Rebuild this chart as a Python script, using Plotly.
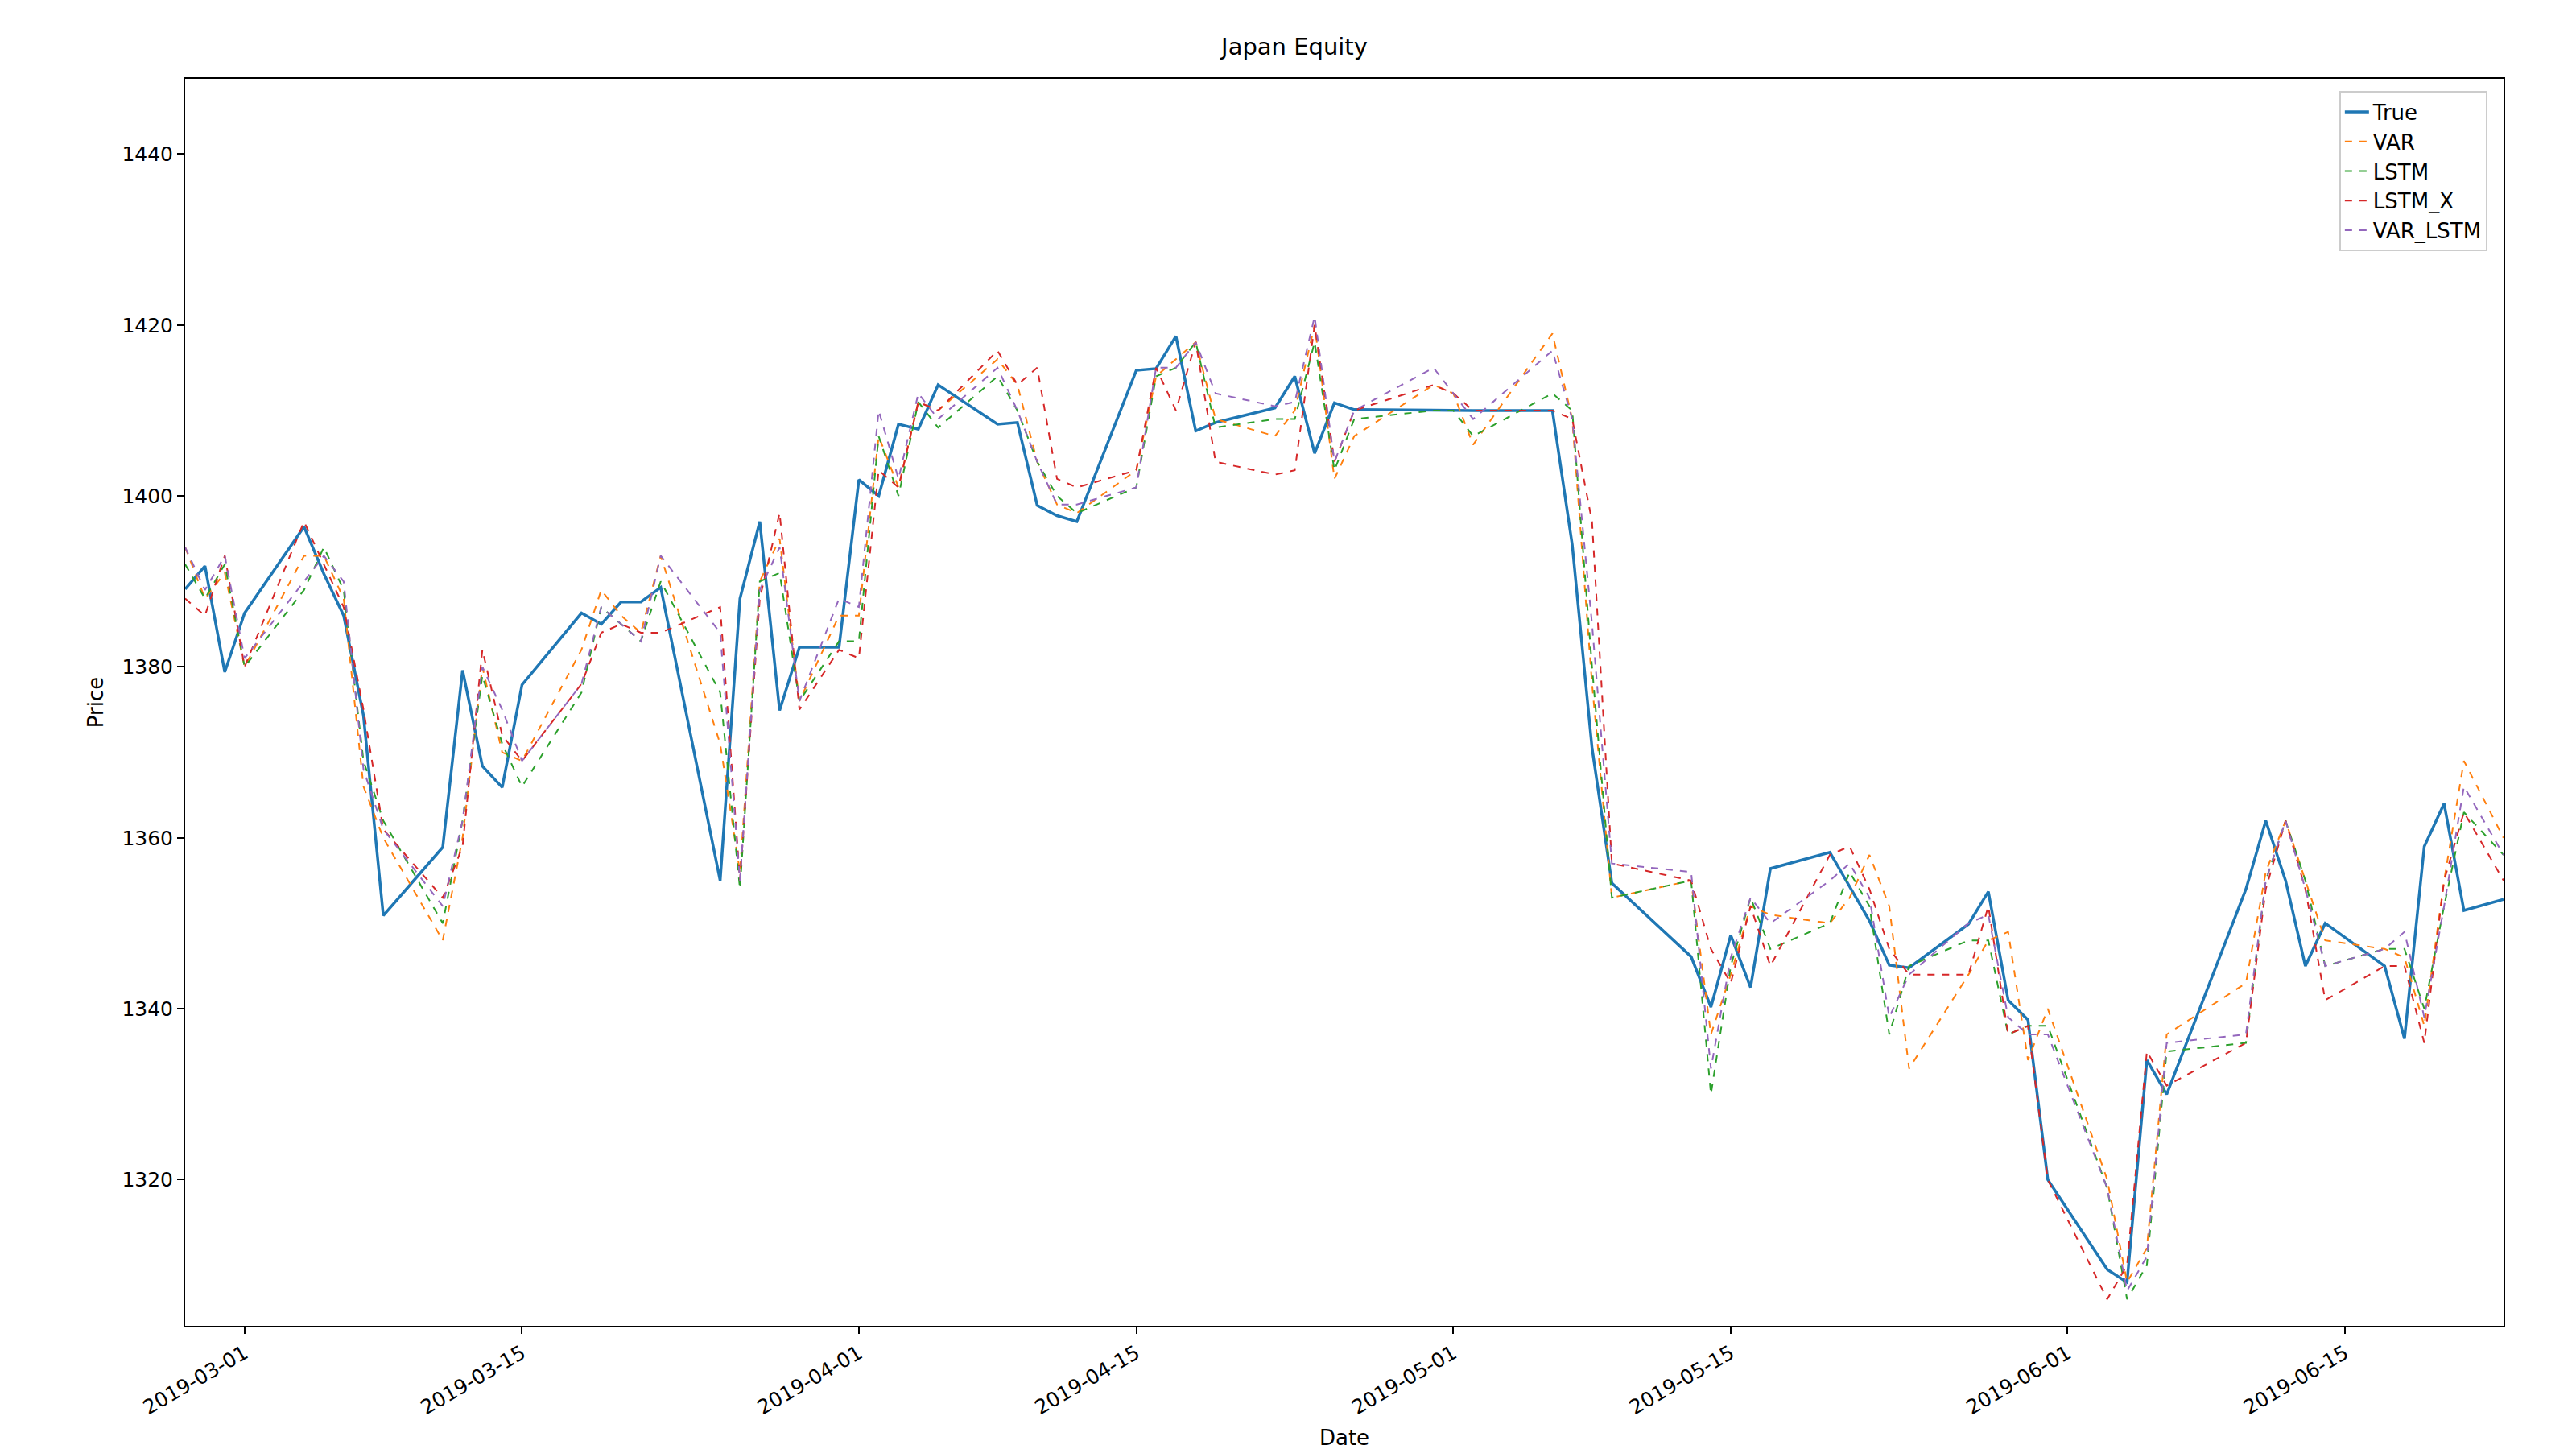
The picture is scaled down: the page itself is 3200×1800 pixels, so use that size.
import plotly.graph_objects as go
import pandas as pd

dates = (["2019-02-%02d" % d for d in [26, 27, 28]] +
         ["2019-03-%02d" % d for d in [1,4,5,6,7,8,11,12,13,14,15,18,19,20,21,22,25,26,27,28,29,31]] +
         ["2019-04-%02d" % d for d in [1,2,3,4,5,8,9,10,11,12,15,16,17,18,19,22,23,24,25,26,30]] +
         ["2019-05-%02d" % d for d in [1,2,6,7,8,9,13,14,15,16,17,20,21,22,23,24,27,28,29,30,31]] +
         ["2019-06-%02d" % d for d in [3,4,5,6,10,11,12,13,14,17,18,19,20,21,23]])
dates = pd.to_datetime(dates)

true_vals = [1389.1,1391.8,1379.4,
    1386.3,1396.4,1390.9,1386,1374.3,1350.9,1358.9,1379.6,1368.4,1365.9,1377.9,1386.3,1385,1387.6,1387.6,1389.3,1355,1388,1397,1374.9,1382.3,1382.3,
    1401.9,1400,1408.4,1407.8,1413,1408.4,1408.6,1398.9,1397.7,1397,1414.7,1414.9,1418.7,1407.6,1408.6,1410.3,1414,1405,1410.9,1410.1,1410,
    1410,1410,1410,1394.3,1370.5,1354.7,1346.1,1340.2,1348.6,1342.5,1356.4,1358.3,1354.3,1350.3,1345.1,1344.8,1349.9,1353.7,1341,1338.7,1320,
    1309.5,1308,1334,1330,1354,1362,1355,1345,1350,1345,1336.5,1359,1364,1351.5,1352.8]
var_vals = [1394,1388,1391,
    1380,1393,1393,1388,1366,1360,1348,1360,1380,1370,1369,1382,1389,1386,1384,1393,1371,1356,1390,1395,1376,1386,
    1386,1407,1401,1411,1410,1416,1413,1404,1399,1398,1403,1414,1416,1418,1409,1407,1410,1420,1402,1407,1413,
    1412,1406,1419,1409,1378,1353,1355,1337,1344,1352,1351,1350,1353,1358,1352,1333,1344,1348,1349,1334,1340,
    1320,1308,1312,1337,1343,1356,1362,1355,1348,1347,1346,1338,1355,1369,1360]
lstm_vals = [1392,1388,1392,
    1380,1389,1394,1389,1369,1362,1350,1362,1379,1371,1366,1377,1387,1385,1383,1390,1377,1354,1390,1391,1376,1383,
    1383,1407,1400,1411,1408,1414,1410,1404,1400,1398,1401,1414,1415,1418,1408,1409,1409,1418,1403,1409,1410,
    1410,1407,1412,1410,1380,1353,1355,1330,1345,1353,1347,1350,1356,1352,1337,1345,1348,1348,1337,1338,1338,
    1319,1306,1310,1335,1336,1355,1362,1355,1345,1347,1347,1340,1352,1363,1358]
lstmx_vals = [1388,1386,1393,
    1380,1397,1392,1387,1375,1361,1353,1359,1382,1372,1369,1378,1384,1385,1384,1384,1387,1355,1388,1398,1375,1382,
    1381,1403,1401,1411,1410,1417,1413,1415,1402,1401,1403,1415,1410,1418,1404,1402.5,1403,1420,1404,1410,1413,
    1412,1410,1410,1409,1397,1357,1355,1347,1343,1352,1345,1358,1359,1354,1347,1344,1344,1352,1337,1338,1320,
    1306,1310,1335,1331,1336,1354,1362,1354,1341,1345,1345,1336,1355,1363,1355]
varlstm_vals = [1394,1389,1393,
    1381,1390,1393,1390,1368,1361,1352,1362,1380,1375,1369,1378,1387,1385,1383,1393,1384,1355,1389,1394,1376,1388,
    1387,1410,1402,1412,1409,1415,1410,1404,1399,1399,1401,1415,1415,1418,1412,1410.5,1411,1421,1404,1410,1415,
    1412,1409,1417,1409,1385,1357,1356,1333,1346,1353,1350,1355,1357,1353,1339,1344,1350,1351,1339,1337,1337,
    1319,1307,1311,1336,1337,1355,1362,1354,1345,1347,1349,1339,1352,1366,1358]

tick_dates = ["2019-03-01","2019-03-15","2019-04-01","2019-04-15","2019-05-01","2019-05-15","2019-06-01","2019-06-15"]

fig = go.Figure()
fig.add_trace(go.Scatter(x=dates, y=true_vals, name="True", mode="lines", line=dict(color="#1f77b4", width=3.5)))
for name, vals, col in [("VAR", var_vals, "#ff7f0e"), ("LSTM", lstm_vals, "#2ca02c"),
                        ("LSTM_X", lstmx_vals, "#d62728"), ("VAR_LSTM", varlstm_vals, "#9467bd")]:
    fig.add_trace(go.Scatter(x=dates, y=vals, name=name, mode="lines",
                             line=dict(color=col, width=2, dash="dash")))

axis_common = dict(showgrid=False, zeroline=False, showline=True, linecolor="black", linewidth=2,
                   mirror=True, ticks="outside", ticklen=8, tickwidth=2, tickcolor="black",
                   tickfont=dict(size=25, color="black"))
fig.update_layout(
    width=3200, height=1800, plot_bgcolor="white", paper_bgcolor="white",
    font=dict(family="DejaVu Sans", color="black"),
    margin=dict(l=222, r=98, t=90, b=147),
    title=dict(text="Japan Equity", x=0.5, xanchor="center", y=0.978, font=dict(size=29)),
    xaxis=dict(range=[dates[0], dates[-1]], tickvals=pd.to_datetime(tick_dates), tickformat="%Y-%m-%d",
               tickangle=-30, title=dict(text="Date", font=dict(size=26)), **axis_common),
    yaxis=dict(range=[1302.9, 1448.8], tickvals=[1320,1340,1360,1380,1400,1420,1440],
               title=dict(text="Price", font=dict(size=26)), **axis_common),
    legend=dict(x=0.993, y=0.99, xanchor="right", yanchor="top", bordercolor="#cccccc", borderwidth=2,
                bgcolor="rgba(255,255,255,0.8)", font=dict(size=26)),
)
fig.write_html("out.html")
